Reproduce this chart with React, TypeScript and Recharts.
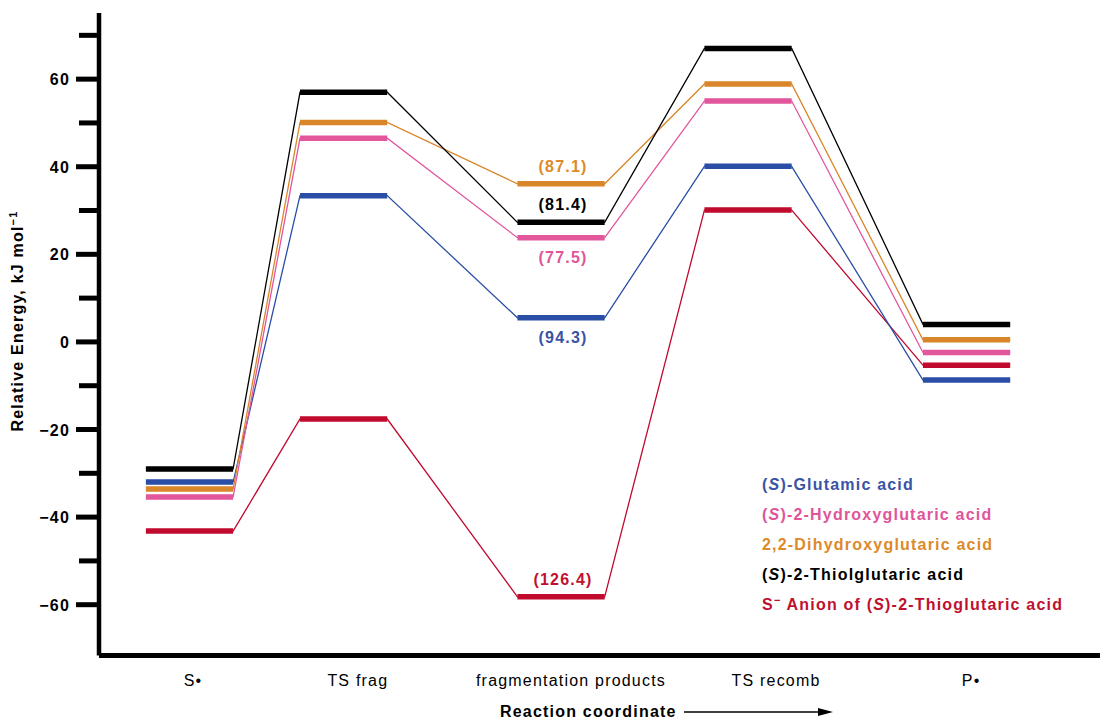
import React from "react";
import { LineChart, Line, XAxis, YAxis, ReferenceDot, Legend, Customized } from "recharts";

// ---------- data ----------
const stages = ["S•", "TS frag", "fragmentation products", "TS recomb", "P•"];
const glutamic = [-32.0, 33.4, 5.5, 40.1, -8.7];
const hydroxyglutaric = [-35.4, 46.5, 23.8, 55.0, -2.4];
const dihydroxyglutaric = [-33.6, 50.1, 36.1, 58.9, 0.5];
const thiolglutaric = [-29.0, 57.0, 27.3, 67.0, 4.0];
const thioAnion = [-43.2, -17.6, -58.2, 30.1, -5.3];
const fragmentationLabels = ["(94.3)", "(77.5)", "(87.1)", "(81.4)", "(126.4)"];
const yTicks = [-60, -50, -40, -30, -20, -10, 0, 10, 20, 30, 40, 50, 60, 70];
const yLabelTicks = [-60, -40, -20, 0, 20, 40, 60];

// ---------- layout ----------
const stageX = [1, 2.007, 3.428, 4.65, 6.078];
const stageLabelX = [1.023, 2.1, 3.493, 4.833, 6.108];
const halfWidth = 0.285;
const xDomain: [number, number] = [0.4085, 6.95];
const yDomain: [number, number] = [-71.6, 75.1];
const FONT = "'Liberation Sans', Arial, Helvetica, sans-serif";
const LS = 1.2;
const Y_AXIS_W = 60;
const X_AXIS_H = 30;

const Italic = ({ children }: any) => <span style={{ fontStyle: "italic" }}>{children}</span>;

const series = [
  { key: "anion", values: thioAnion, color: "#c00a2e", text: "#c01030", label: fragmentationLabels[4], side: "above",
    name: <>S<sup style={{ fontSize: 11, verticalAlign: "6px", lineHeight: 0 }}>−</sup> Anion of (<Italic>S</Italic>)-2-Thioglutaric acid</> },
  { key: "glutamic", values: glutamic, color: "#2a4ea6", text: "#3a53a4", label: fragmentationLabels[0], side: "below",
    name: <>(<Italic>S</Italic>)-Glutamic acid</> },
  { key: "hydroxy", values: hydroxyglutaric, color: "#e2569c", text: "#e0559a", label: fragmentationLabels[1], side: "below",
    name: <>(<Italic>S</Italic>)-2-Hydroxyglutaric acid</> },
  { key: "dihydroxy", values: dihydroxyglutaric, color: "#d9862a", text: "#dc8a2a", label: fragmentationLabels[2], side: "above",
    name: <>2,2-Dihydroxyglutaric acid</> },
  { key: "thiol", values: thiolglutaric, color: "#000000", text: "#000000", label: fragmentationLabels[3], side: "above",
    name: <>(<Italic>S</Italic>)-2-Thiolglutaric acid</> },
];
const legendOrder = ["glutamic", "hydroxy", "dihydroxy", "thiol", "anion"];

const connectorPoints = (vals: number[]) =>
  vals.flatMap((v, i) => [
    { x: stageX[i] - halfWidth, y: v },
    { x: stageX[i] + halfWidth, y: v },
  ]);

const levelPoints = (vals: number[]) =>
  vals.flatMap((v, i) => {
    const pts: any[] = [
      { x: stageX[i] - halfWidth, y: v },
      { x: stageX[i] + halfWidth, y: v },
    ];
    if (i < vals.length - 1) pts.push({ x: (stageX[i] + stageX[i + 1]) / 2, y: null });
    return pts;
  });

const fmt = (v: number) => (v < 0 ? "−" + Math.abs(v) : String(v));

const YTick = (props: any) => {
  const { x, y, payload } = props;
  const v = payload.value;
  const major = yLabelTicks.includes(v);
  const len = major ? 23 : 20;
  return (
    <g>
      <line x1={x - len} x2={x} y1={y} y2={y} stroke="#000" strokeWidth={5} />
      {major && (
        <text x={x - 29} y={y} dy={6} textAnchor="end" fontFamily={FONT} fontWeight="bold" fontSize={16}
          letterSpacing={LS} fill="#000">
          {fmt(v)}
        </text>
      )}
    </g>
  );
};

const XTick = (props: any) => {
  const { x, y, payload } = props;
  const idx = stageLabelX.indexOf(payload.value);
  return (
    <text x={x} y={y} dy={30.5} textAnchor="middle" fontFamily={FONT} fontSize={16} letterSpacing={LS} fill="#000">
      {stages[idx]}
    </text>
  );
};

const Titles = () => (
  <g>
    <text x={23} y={321} transform="rotate(-90 23 321)" textAnchor="middle" fontFamily={FONT} fontWeight="bold"
      fontSize={16} letterSpacing={LS} fill="#000">
      Relative Energy, kJ mol<tspan fontSize={11} dy={-6}>−1</tspan>
    </text>
    <text x={500} y={717} fontFamily={FONT} fontWeight="bold" fontSize={16} letterSpacing={LS} fill="#000">
      Reaction coordinate
    </text>
    <line x1={684} x2={820} y1={712} y2={712} stroke="#000" strokeWidth={1.5} />
    <polygon points="818,708 833,712 818,716" fill="#000" />
  </g>
);

const LegendContent = () => (
  <div style={{ fontFamily: FONT, fontWeight: "bold", fontSize: 16, letterSpacing: LS, lineHeight: "30px", whiteSpace: "nowrap" }}>
    {legendOrder.map((k) => {
      const s = series.find((d) => d.key === k)!;
      return (
        <div key={k} style={{ color: s.text }}>
          {s.name}
        </div>
      );
    })}
  </div>
);

export default function App() {
  return (
    <div style={{ position: "absolute", left: 0, top: 0, background: "#fff" }}>
      <LineChart width={1100} height={719}
        margin={{ top: 13, right: 0, bottom: 63.5 - X_AXIS_H, left: 99 - Y_AXIS_W }}
        style={{ fontFamily: FONT }}>
        <XAxis type="number" dataKey="x" domain={xDomain} allowDataOverflow ticks={stageLabelX} interval={0}
          height={X_AXIS_H} tickSize={0} tickMargin={0} tickLine={false} tick={<XTick />}
          axisLine={{ stroke: "#000", strokeWidth: 5 }} />
        <YAxis type="number" domain={yDomain} allowDataOverflow ticks={yTicks} interval={0} width={Y_AXIS_W}
          tickSize={0} tickMargin={0} tickLine={false} tick={<YTick />}
          axisLine={{ stroke: "#000", strokeWidth: 4.5 }} />
        {series.map((s) => (
          <Line key={s.key + "-c"} data={connectorPoints(s.values)} dataKey="y" type="linear" stroke={s.color}
            strokeWidth={1.3} dot={false} activeDot={false} isAnimationActive={false} legendType="none" />
        ))}
        {series.map((s) => (
          <Line key={s.key + "-l"} data={levelPoints(s.values)} dataKey="y" type="linear" stroke={s.color}
            strokeWidth={5.5} strokeLinecap="butt" dot={false} activeDot={false} connectNulls={false}
            isAnimationActive={false} legendType="none" />
        ))}
        {series.map((s) => (
          <ReferenceDot key={s.key + "-d"} x={stageX[2]} y={s.values[2]} r={0} fill="none" stroke="none"
            ifOverflow="visible"
            label={(p: any) => {
              const vb = p.viewBox || {};
              const cx = (vb.x ?? 0) + (vb.width ?? 0) / 2;
              const cy = (vb.y ?? 0) + (vb.height ?? 0) / 2;
              return (
                <text x={cx + 2} y={s.side === "above" ? cy - 12 : cy + 25} textAnchor="middle" fontFamily={FONT}
                  fontWeight="bold" fontSize={16} letterSpacing={LS} fill={s.text}>
                  {s.label}
                </text>
              );
            }} />
        ))}
        <Customized component={Titles} />
        <Legend layout="horizontal" verticalAlign="middle" align="center" content={<LegendContent />}
          wrapperStyle={{ position: "absolute", left: 762, top: 470, width: 330, height: 160 }} />
      </LineChart>
    </div>
  );
}
